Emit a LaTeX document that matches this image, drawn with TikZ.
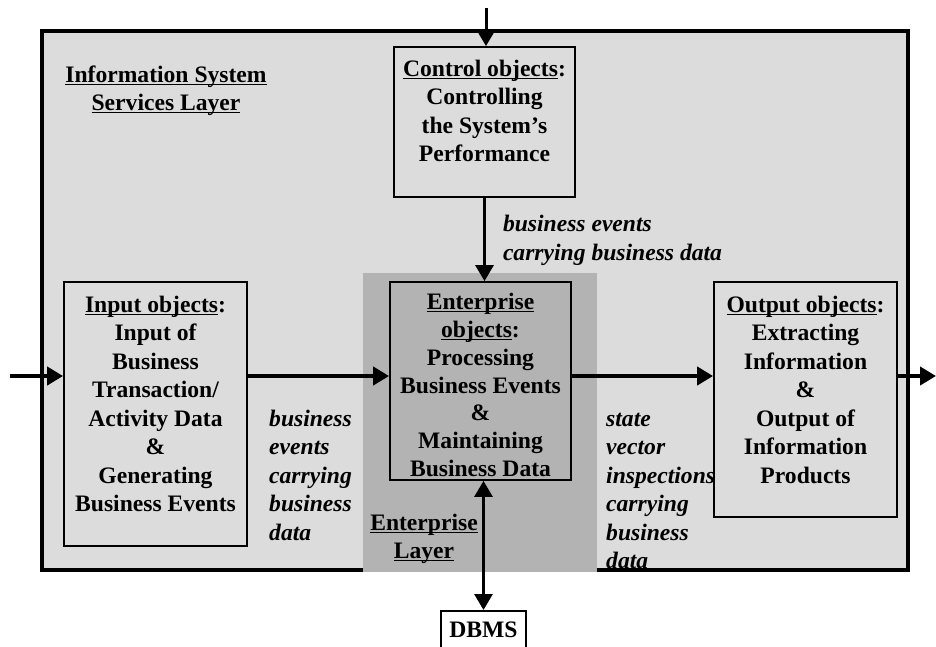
\documentclass[tikz,border=0pt]{standalone}
\usepackage{fontspec}
\setmainfont{Liberation Serif}
\usetikzlibrary{arrows.meta,positioning}

\definecolor{layergray}{RGB}{220,220,220}
\definecolor{entgray}{RGB}{179,179,179}

% underline close to the baseline, no extra depth
\newcommand{\ulined}[1]{\begingroup\setbox0\hbox{#1}\rlap{\rule[-2.8pt]{\wd0}{1.4pt}}\box0\endgroup}

\begin{document}
\begin{tikzpicture}[x=1pt,y=-1pt,font=\fontsize{23.6}{28.5}\selectfont\bfseries,
                    >={Triangle[length=16pt,width=18pt]}]
	\tikzstyle{objbox}=[draw,line width=1.8pt,inner sep=0pt]
	\tikzstyle{objtext}=[align=center,anchor=north,inner sep=0pt]
	\tikzstyle{flowlabel}=[align=left,anchor=north west,inner sep=0pt,
	                       font=\fontsize{23.6}{28.5}\selectfont\bfseries\itshape]
	\tikzstyle{flow}=[->,line width=4.5pt]
	\tikzstyle{ctrlflow}=[line width=3pt]

	\useasboundingbox (0,0) rectangle (936,646);
	\clip (0,0) rectangle (936,646);

	% layers
	\draw[line width=3.3pt,fill=layergray] (42,31) rectangle (908,570);
	\fill[entgray] (363,273) rectangle (597,572);

	\node[objtext] (islayer) at (166,62) {\strut\ulined{Information System}\\ \ulined{Services Layer}};
	\node[objtext] (entlayer) at (424,510) {\strut\ulined{Enterprise}\\ \ulined{Layer}};

	% object boxes
	\node[objbox,minimum width=181,minimum height=150] (ctrl) at (484.5,122) {};
	\node[objbox,minimum width=181,minimum height=198] (ent)  at (480.5,381) {};
	\node[objbox,minimum width=183,minimum height=264] (inp)  at (155.5,414) {};
	\node[objbox,minimum width=183,minimum height=235] (out)  at (805.5,399.5) {};
	\node[objbox,anchor=north,minimum width=85,text height=16pt,text depth=20pt,inner ysep=11pt] (dbms) at (483.5,610) {DBMS};

	\node[objtext] (ctrltxt) at (484.5,56) {\strut\ulined{Control objects}:\\ Controlling\\ the System’s\\ Performance};
	\node[objtext,font=\fontsize{23.6}{27.8}\selectfont\bfseries] (enttxt) at (480.5,290)
		{\strut\ulined{Enterprise}\\ \ulined{objects}:\\ Processing\\ Business Events\\ \&\\ Maintaining\\ Business Data};
	\node[objtext] (inptxt)  at (155.5,292) {\strut\ulined{Input objects}:\\ Input of\\ Business\\ Transaction/\\ Activity Data\\ \&\\ Generating\\ Business Events};
	\node[objtext] (outtxt)  at (805.5,292) {\strut\ulined{Output objects}:\\ Extracting\\ Information\\ \&\\ Output of\\ Information\\ Products};

	% flows
	\coordinate (mgmt) at (486,8);
	\coordinate (src)  at (10,376);
	\coordinate (sink) at (936,376);

	\draw[ctrlflow,->] (mgmt) -- (mgmt |- ctrl.north);
	\draw[ctrlflow,->] (ctrl.south) -- (ctrl.south |- ent.north)
		node[flowlabel,pos=0.15,xshift=17pt] (evlabel) {\strut business events\\ carrying business data};
	\draw[flow] (src) -- (src -| inp.west);
	\draw[flow] (src -| inp.east) -- (src -| ent.west);
	\draw[flow] (src -| ent.east) -- (src -| out.west);
	\draw[flow] (src -| out.east) -- (sink);
	\draw[ctrlflow,<->] (dbms.north |- ent.south) -- (dbms.north);

	\node[flowlabel] (inplabel) at (269,406) {\strut business\\ events\\ carrying\\ business\\ data};
	\node[flowlabel] (outlabel) at (606,406) {\strut state\\ vector\\ inspections\\ carrying\\ business\\ data};
\end{tikzpicture}
\end{document}
